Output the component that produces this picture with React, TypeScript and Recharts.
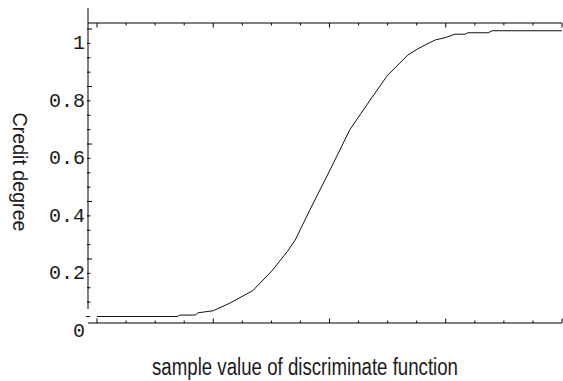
import React from 'react';
import { LineChart, Line, XAxis, YAxis, ReferenceLine, Label } from 'recharts';

// Sample value of the discriminate function (x) and the credit degree (y)
const discriminantValues = [
  -4.0, -2.62, -2.57, -2.31, -2.26, -2.0, -1.71, -1.32, -0.99, -0.73, -0.59,
  -0.34, 0.01, 0.35, 0.7, 0.99, 1.35, 1.51, 1.64, 1.82, 1.99, 2.16, 2.33,
  2.38, 2.73, 2.8, 4.0,
];
const creditDegrees = [
  0, 0, 0.005, 0.005, 0.013, 0.02, 0.047, 0.09, 0.159, 0.225, 0.266, 0.37,
  0.51, 0.65, 0.753, 0.837, 0.91, 0.93, 0.944, 0.962, 0.97, 0.982, 0.982,
  0.987, 0.987, 0.994, 0.994,
];

const xTicks = [-4, -3.5, -3, -2.5, -2, -1.5, -1, -0.5, 0, 0.5, 1, 1.5, 2, 2.5, 3, 3.5, 4];
const xMajorTicks = [-4, -2, 0, 2, 4];
const yTicks = [
  0, 0.05, 0.1, 0.15, 0.2, 0.25, 0.3, 0.35, 0.4, 0.45, 0.5, 0.55, 0.6, 0.65,
  0.7, 0.75, 0.8, 0.85, 0.9, 0.95, 1,
];
const yMajorTicks = [0, 0.2, 0.4, 0.6, 0.8, 1];
const yTickLabels = ['0', '0.2', '0.4', '0.6', '0.8', '1'];

const xDomain = [-4.155, 4];
const yDomain = [-0.0226, 1.021];
// vertical extent of the left axis line (in credit-degree units)
const yAxisLineFrom = 0.026;
const yAxisLineTo = 1.073;

const data = discriminantValues.map((x, i) => ({ x, credit: creditDegrees[i] }));

const INK = '#000';
const MONO = '"Liberation Mono", "DejaVu Sans Mono", monospace';
const SANS = '"Liberation Sans", Arial, sans-serif';

const isMajor = (list: number[], v: number) => list.some((m) => Math.abs(m - v) < 1e-9);

const BottomTick = (props: any) => {
  const { x, y, payload } = props;
  const len = isMajor(xMajorTicks, payload.value) ? 4.5 : 2.5;
  return <line x1={x} x2={x} y1={y} y2={y - len} stroke={INK} strokeWidth={1} />;
};

const TopTick = (props: any) => {
  const { x, y, payload } = props;
  const len = isMajor(xMajorTicks, payload.value) ? 4.5 : 2.5;
  return <line x1={x} x2={x} y1={y} y2={y + len} stroke={INK} strokeWidth={1} />;
};

const LeftTick = (props: any) => {
  const { x, y, payload } = props;
  const v = payload.value;
  const idx = yMajorTicks.findIndex((m) => Math.abs(m - v) < 1e-9);
  const major = idx >= 0;
  let x1 = x - 1;
  let x2 = x + (major ? 4 : 2.5);
  if (v === 0) {
    x1 = x - 2;
    x2 = x + 2;
  }
  return (
    <g>
      <line x1={x1} x2={x2} y1={y} y2={y} stroke={INK} strokeWidth={1} />
      {major && (
        <text
          x={x - 3}
          y={y + 20}
          textAnchor="end"
          fontFamily={MONO}
          fontSize={20}
          fill="#1a1a1a"
        >
          {yTickLabels[idx]}
        </text>
      )}
    </g>
  );
};

const XTitle = (props: any) => {
  const vb = props.viewBox || { x: 88, y: 323, width: 474, height: 30 };
  const cx = vb.x + vb.width / 2 - 20;
  return (
    <text
      x={cx}
      y={vb.y + 52}
      textAnchor="middle"
      fontFamily={SANS}
      fontSize={23}
      textLength={306}
      lengthAdjust="spacingAndGlyphs"
      fill="#1a1a1a"
    >
      sample value of discriminate function
    </text>
  );
};

const YTitle = (props: any) => {
  const vb = props.viewBox || { x: 28, y: 23, width: 60, height: 300 };
  const cx = 20;
  const cy = vb.y + vb.height / 2 - 1;
  return (
    <text
      x={cx}
      y={cy}
      transform={`rotate(90 ${cx} ${cy})`}
      textAnchor="middle"
      dominantBaseline="central"
      fontFamily={SANS}
      fontSize={21}
      textLength={119}
      lengthAdjust="spacingAndGlyphs"
      fill="#1a1a1a"
    >
      Credit degree
    </text>
  );
};

export default function App() {
  return (
    <div style={{ position: 'absolute', left: 0, top: 0, background: '#fff' }}>
      <LineChart
        width={563}
        height={381}
        data={data}
        margin={{ top: 13, right: 1, bottom: 28, left: 28 }}
      >
        <XAxis
          xAxisId="bottom"
          dataKey="x"
          type="number"
          domain={xDomain}
          ticks={xTicks}
          interval={0}
          height={30}
          tickSize={0}
          tickMargin={0}
          tickLine={false}
          tick={BottomTick}
          axisLine={{ stroke: INK, strokeWidth: 1 }}
          allowDataOverflow
        >
          <Label content={XTitle} />
        </XAxis>
        <XAxis
          xAxisId="top"
          orientation="top"
          dataKey="x"
          type="number"
          domain={xDomain}
          ticks={xTicks}
          interval={0}
          height={10}
          tickSize={0}
          tickMargin={0}
          tickLine={false}
          tick={TopTick}
          axisLine={{ stroke: INK, strokeWidth: 1 }}
          allowDataOverflow
        />
        <YAxis
          type="number"
          domain={yDomain}
          ticks={yTicks}
          interval={0}
          width={60}
          tickSize={0}
          tickMargin={0}
          tickLine={false}
          tick={LeftTick}
          axisLine={false}
          allowDataOverflow
        >
          <Label content={YTitle} />
        </YAxis>
        <ReferenceLine
          xAxisId="bottom"
          segment={[
            { x: xDomain[0], y: yAxisLineFrom },
            { x: xDomain[0], y: yAxisLineTo },
          ]}
          stroke={INK}
          strokeWidth={1}
          ifOverflow="visible"
        />
        <Line
          xAxisId="bottom"
          type="linear"
          dataKey="credit"
          stroke="#111"
          strokeWidth={1}
          dot={false}
          isAnimationActive={false}
        />
      </LineChart>
    </div>
  );
}
